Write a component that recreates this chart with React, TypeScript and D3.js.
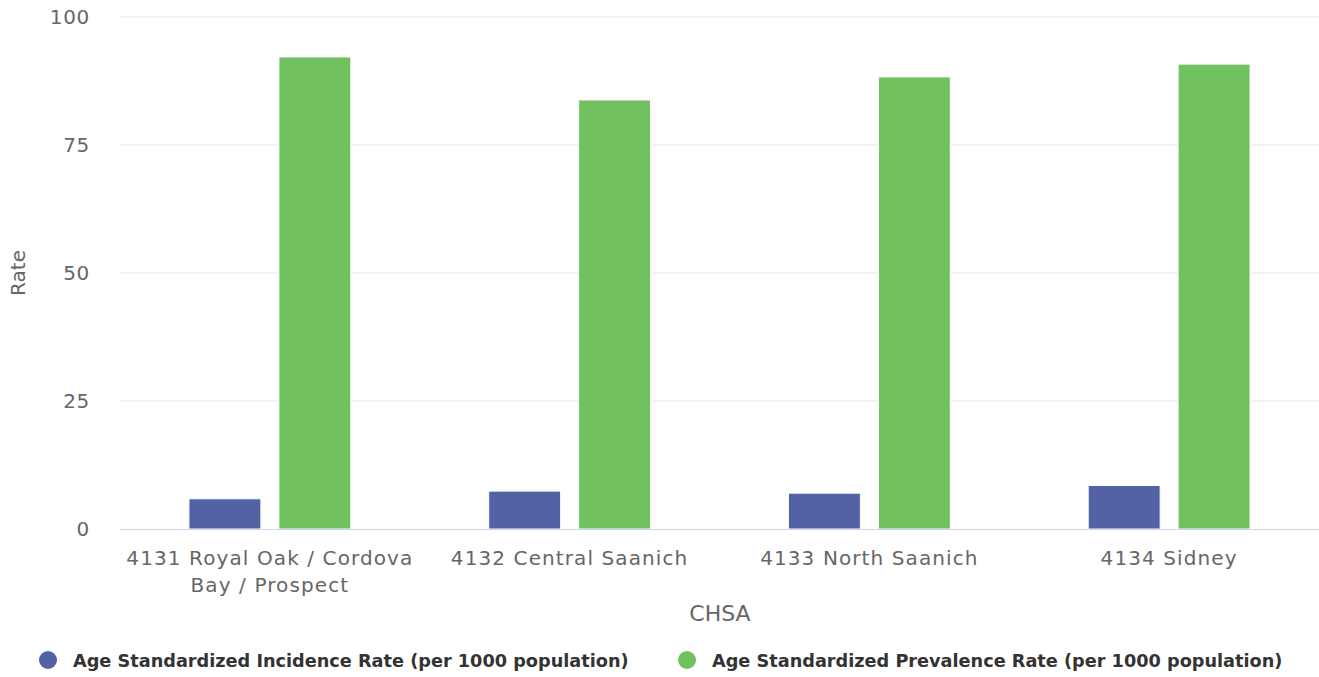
import React from "react";
import * as d3 from "d3";

const categories = ["4131 Royal Oak / Cordova Bay / Prospect", "4132 Central Saanich", "4133 North Saanich", "4134 Sidney"];
const categoryLines = [["4131 Royal Oak / Cordova", "Bay / Prospect"], ["4132 Central Saanich"], ["4133 North Saanich"], ["4134 Sidney"]];
const incidence = [5.9, 7.4, 7.0, 8.5];
const prevalence = [92.2, 83.8, 88.3, 90.8];
const seriesNames = ["Age Standardized Incidence Rate (per 1000 population)", "Age Standardized Prevalence Rate (per 1000 population)"];
const yTicks = [0, 25, 50, 75, 100];

const W = 1319, H = 677;
const plot = { left: 120, right: 1319, top: 17, bottom: 529 };
const colors = ["#5262a5", "#71c161"];
const font = "'DejaVu Sans', sans-serif";

export default function App() {
  const x = d3.scaleBand<string>().domain(categories).range([plot.left, plot.right]).paddingInner(0).paddingOuter(0);
  const y = d3.scaleLinear().domain([0, 100]).range([plot.bottom, plot.top]);
  const bw = x.bandwidth();
  const groupPad = bw * 0.2;
  const slot = (bw - 2 * groupPad) / 2;
  const barW = slot * 0.8;
  const series = [incidence, prevalence];
  return (
    <svg width={W} height={H} style={{ position: "absolute", left: 0, top: 0, fontFamily: font }}>
      {yTicks.map((t) => (
        <g key={t}>
          {t !== 0 && <line x1={plot.left} x2={plot.right} y1={y(t)} y2={y(t)} stroke="#e6e6e6" strokeWidth={1} />}
          <text x={90} y={y(t) + 7} textAnchor="end" fill="#666" fontSize={20} letterSpacing={0.7}>{t}</text>
        </g>
      ))}
      {categories.map((c, i) => (
        <g key={c}>
          {series.map((s, k) => (
            <rect key={k} x={x(c)! + groupPad + k * slot + (slot - barW) / 2} y={y(s[i])} width={barW} height={y(0) - y(s[i])} fill={colors[k]} stroke="#fff" strokeWidth={1} />
          ))}
          {categoryLines[i].map((ln, j) => (
            <text key={j} x={x(c)! + bw / 2} y={564.5 + j * 27} textAnchor="middle" fill="#666" fontSize={20} letterSpacing={1.1}>{ln}</text>
          ))}
        </g>
      ))}
      <line x1={plot.left} x2={plot.right} y1={plot.bottom + 0.5} y2={plot.bottom + 0.5} stroke="#ccd6eb" strokeWidth={1} />
      <text x={720} y={621} textAnchor="middle" fill="#666" fontSize={22}>CHSA</text>
      <text transform={`translate(25,${(plot.top + plot.bottom) / 2}) rotate(-90)`} textAnchor="middle" fill="#666" fontSize={20}>Rate</text>
      {seriesNames.map((n, k) => {
        const cx = k === 0 ? 48 : 687;
        return (
          <g key={n}>
            <circle cx={cx} cy={660} r={9} fill={colors[k]} />
            <text x={cx + 25} y={667} fill="#333" fontSize={17.7} fontWeight={600}>{n}</text>
          </g>
        );
      })}
    </svg>
  );
}
